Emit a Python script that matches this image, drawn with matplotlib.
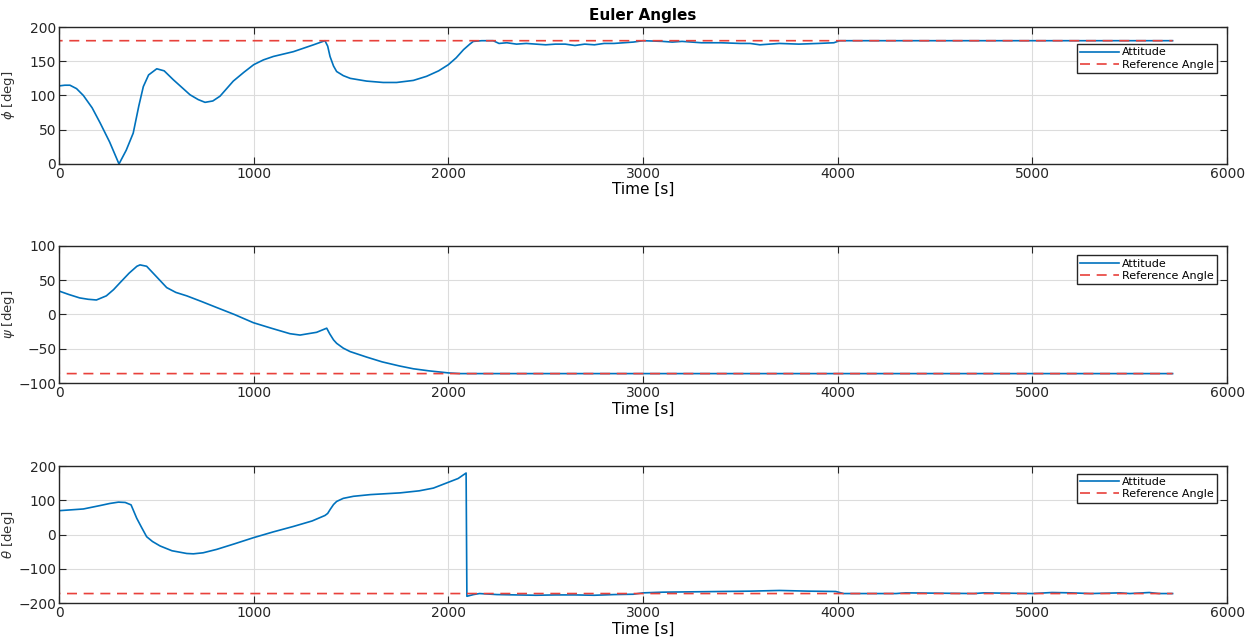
# Euler angles: attitude vs reference angle
import numpy as np
import matplotlib.pyplot as plt

# phi
phi_t = [0, 30, 56, 90, 125, 170, 211, 260, 308, 345, 381, 410, 433, 460, 502, 540,
         587, 630, 673, 715, 750, 790, 827, 895, 950, 1000, 1050, 1101, 1204, 1307,
         1366, 1380, 1392, 1410, 1426, 1460, 1496, 1580, 1665, 1734, 1820, 1888,
         1950, 2000, 2040, 2078, 2110, 2128, 2171, 2230, 2260, 2300, 2350, 2400,
         2450, 2500, 2550, 2600, 2650, 2700, 2750, 2800, 2850, 2900, 2950, 3000,
         3100, 3150, 3200, 3300, 3400, 3500, 3550, 3600, 3650, 3700, 3800, 3900,
         3980, 4010, 5720]
phi = [114, 115, 115, 110, 100, 82, 60, 32, 0, 20, 45, 85, 113, 130, 139, 136,
       123, 112, 101, 94, 90, 92, 99, 121, 134, 145, 152, 157, 164, 174,
       180, 172, 157, 143, 135, 129, 125, 121, 119, 119, 122, 128,
       136, 145, 155, 167, 175, 179, 180, 180, 176, 177, 175, 176,
       175, 174, 175, 175, 173, 175, 174, 176, 176, 177, 178, 180,
       179, 178, 179, 177, 177, 176, 176, 174, 175, 176, 175, 176,
       177, 180, 180]

# psi
psi_t = [0, 50, 106, 150, 192, 243, 280, 313, 360, 400, 416, 450, 500, 553, 600,
         656, 730, 810, 900, 998, 1090, 1186, 1238, 1280, 1323, 1375, 1390, 1410,
         1426, 1460, 1495, 1580, 1660, 1750, 1820, 1900, 2000, 2060, 5720]
psi = [34, 29, 24, 22, 21, 27, 36, 46, 60, 70, 72, 70, 55, 39, 32,
       27, 19, 10, 0, -12, -20, -28, -30, -28, -26, -20, -28, -37,
       -42, -49, -54, -62, -69, -75, -79, -82, -85, -86, -86]

# theta
theta_t = [0, 125, 211, 260, 305, 340, 370, 399, 425, 450, 480, 519, 580, 656,
           690, 740, 810, 900, 998, 1100, 1204, 1300, 1366, 1380, 1392, 1410, 1426,
           1460, 1512, 1600, 1752, 1850, 1923, 2000, 2050, 2091, 2095, 2129, 2160,
           2250, 2350, 2450, 2550, 2650, 2750, 2850, 2950, 3000, 3100, 3250, 3400,
           3550, 3700, 3850, 3990, 4030, 4300, 4350, 4700, 4750, 5000, 5100, 5200,
           5300, 5450, 5500, 5600, 5650, 5720]
theta = [70, 75, 85, 91, 95, 94, 87, 48, 20, -6, -20, -33, -47, -55,
         -56, -53, -43, -27, -9, 8, 24, 40, 56, 62, 73, 88, 97,
         106, 112, 117, 122, 128, 136, 153, 164, 180, -180, -175, -172,
         -175, -176, -177, -176, -176, -177, -175, -174, -170, -168, -167, -166,
         -165, -163, -165, -166, -172, -172, -170, -172, -170, -172, -169, -170,
         -172, -170, -172, -169, -172, -172]

ref_t = [0, 1, 5720]
ref_phi = [0, 180, 180]
ref_psi = [0, -86, -86]
ref_theta = [0, -172, -172]

blue = '#0072BD'
red = '#E8413B'

fig = plt.figure(figsize=(12.56, 6.43), dpi=100)
positions = [[0.047, 0.745, 0.930, 0.213],
             [0.047, 0.404, 0.930, 0.214],
             [0.047, 0.062, 0.930, 0.213]]
panels = [(phi_t, phi, ref_phi, r'$\phi$ [deg]', np.arange(0, 201, 50), (0, 200), 0.875),
          (psi_t, psi, ref_psi, r'$\psi$ [deg]', np.arange(-100, 101, 50), (-100, 100), 0.93),
          (theta_t, theta, ref_theta, r'$\theta$ [deg]', np.arange(-200, 201, 100), (-200, 200), 0.945)]

for i, (pos, (tt, yy, ref, lab, yt, yl, leg_y)) in enumerate(zip(positions, panels)):
    ax = fig.add_axes(pos)
    ax.plot(tt, yy, color=blue, lw=1.2, label='Attitude')
    ax.plot(ref_t, ref, color=red, lw=1.2, ls='--', dashes=(6, 4), label='Reference Angle')
    ax.set_xlim(0, 6000)
    ax.set_ylim(*yl)
    ax.set_xticks(np.arange(0, 6001, 1000))
    ax.set_yticks(yt)
    ax.grid(True, color='#dcdcdc', lw=0.8)
    ax.set_axisbelow(True)
    ax.tick_params(direction='in', top=True, right=True, length=5, labelsize=10,
                   colors='#262626', pad=2)
    for s in ax.spines.values():
        s.set_color('#262626')
        s.set_linewidth(1.0)
    ax.set_xlabel('Time [s]', fontsize=11, labelpad=1)
    ax.set_ylabel(lab, fontsize=9.5, color='#333333')
    ax.yaxis.set_label_coords(-0.036, 0.5)
    leg = ax.legend(loc='upper right', bbox_to_anchor=(0.991, leg_y), fontsize=8,
                    fancybox=False, edgecolor='#262626', framealpha=1,
                    borderpad=0.3, labelspacing=0.2, handlelength=3.5,
                    handletextpad=0.2, borderaxespad=0)
    leg.get_frame().set_linewidth(1.0)
    if i == 0:
        ax.set_title('Euler Angles', fontsize=11, fontweight='bold', pad=5)

fig.savefig('out.png', dpi=100)
